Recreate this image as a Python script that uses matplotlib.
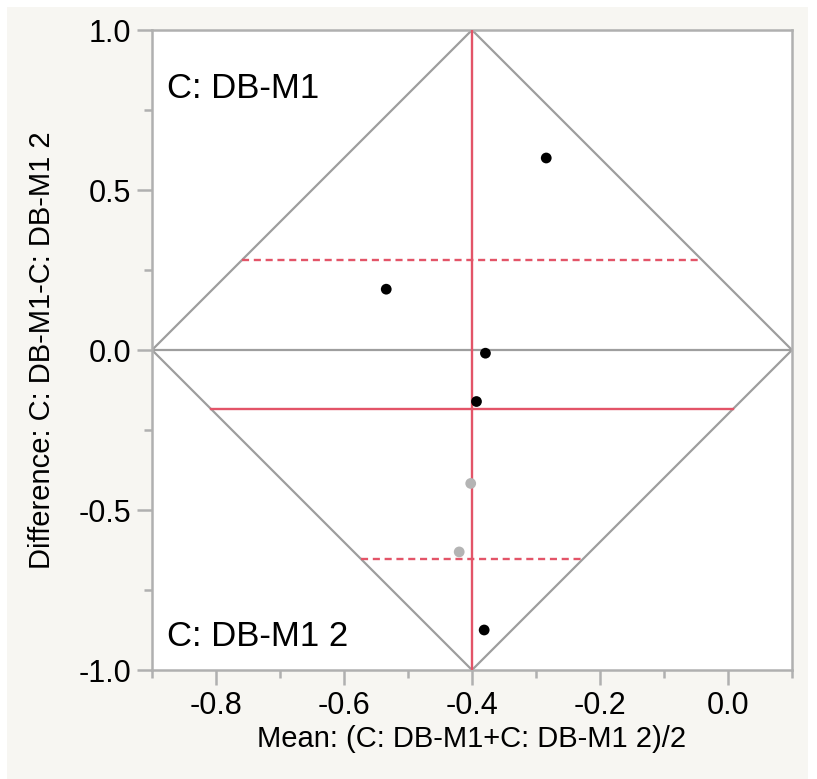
import matplotlib
matplotlib.use('Agg')
import matplotlib.pyplot as plt
from matplotlib.patches import Rectangle
from matplotlib.ticker import MultipleLocator, FormatStrFormatter

plt.rcParams['font.family'] = ['Liberation Sans', 'DejaVu Sans']

# 数据：均值 (x) 与差值 (y)
mean_vals = [-0.284, -0.534, -0.379, -0.393, -0.381]
diff_vals = [0.600, 0.190, -0.010, -0.161, -0.875]
# 排除行（灰点）
excl_mean = [-0.402, -0.420]
excl_diff = [-0.417, -0.631]

center_x = -0.40      # 菱形中心 / 平均均值
mean_diff = -0.185    # 平均差值
ci_upper = 0.281
ci_lower = -0.652

GRAY = '#9E9E9E'
RED = '#E35468'
BG = '#F7F6F2'

W, H, DPI = 817, 779, 100
fig = plt.figure(figsize=(W / DPI, H / DPI), dpi=DPI, facecolor='white')
fig.patches.append(Rectangle((7 / W, 0), 801 / W, (H - 7) / H, transform=fig.transFigure,
                             facecolor=BG, edgecolor='none', zorder=-10))

ax = fig.add_axes([152 / W, 1 - 670 / H, 640 / W, 640 / H])
ax.set_facecolor('white')
ax.set_xlim(-0.9, 0.1)
ax.set_ylim(-1.0, 1.0)

# 菱形
ax.plot([-0.9, center_x, 0.1, center_x, -0.9],
        [0.0, 1.0, 0.0, -1.0, 0.0], color=GRAY, lw=1.6, zorder=2)
ax.axhline(0.0, color=GRAY, lw=1.6, zorder=2)


def half_width(y):
    return 0.5 * (1 - abs(y))


ax.plot([center_x, center_x], [-1.0, 1.0], color=RED, lw=1.7, zorder=3)
hw = half_width(mean_diff)
ax.plot([center_x - hw, center_x + hw], [mean_diff, mean_diff],
        color=RED, lw=1.7, zorder=3)
for yv in (ci_upper, ci_lower):
    hw = half_width(yv)
    ax.plot([center_x - hw, center_x + hw], [yv, yv], color=RED, lw=1.7,
            ls=(0, (3.0, 2.0)), zorder=3)

ax.scatter(excl_mean, excl_diff, s=60, color='#B4B4B4', edgecolors='none', zorder=4)
ax.scatter(mean_vals, diff_vals, s=60, color='black', edgecolors='none', zorder=5)

ax.text(0.023, 0.935, 'C: DB-M1', transform=ax.transAxes, fontsize=25,
        ha='left', va='top')
ax.text(0.023, 0.027, 'C: DB-M1 2', transform=ax.transAxes, fontsize=25,
        ha='left', va='bottom')

for s in ax.spines.values():
    s.set_color('#B0B0B0')
    s.set_linewidth(1.8)

ax.xaxis.set_major_locator(MultipleLocator(0.2))
ax.xaxis.set_minor_locator(MultipleLocator(0.1))
ax.yaxis.set_major_locator(MultipleLocator(0.5))
ax.yaxis.set_minor_locator(MultipleLocator(0.25))
ax.xaxis.set_major_formatter(FormatStrFormatter('%.1f'))
ax.yaxis.set_major_formatter(FormatStrFormatter('%.1f'))
ax.tick_params(which='major', length=11, width=1.8, color='#B0B0B0',
               labelsize=22, pad=4, direction='out')
ax.tick_params(which='minor', length=5.5, width=1.8, color='#B0B0B0',
               direction='out')

ax.set_xlabel('Mean: (C: DB-M1+C: DB-M1 2)/2', fontsize=21, labelpad=3)
ax.set_ylabel('Difference: C: DB-M1-C: DB-M1 2', fontsize=21, labelpad=16)

fig.savefig('out.png', dpi=DPI, facecolor=fig.get_facecolor())
